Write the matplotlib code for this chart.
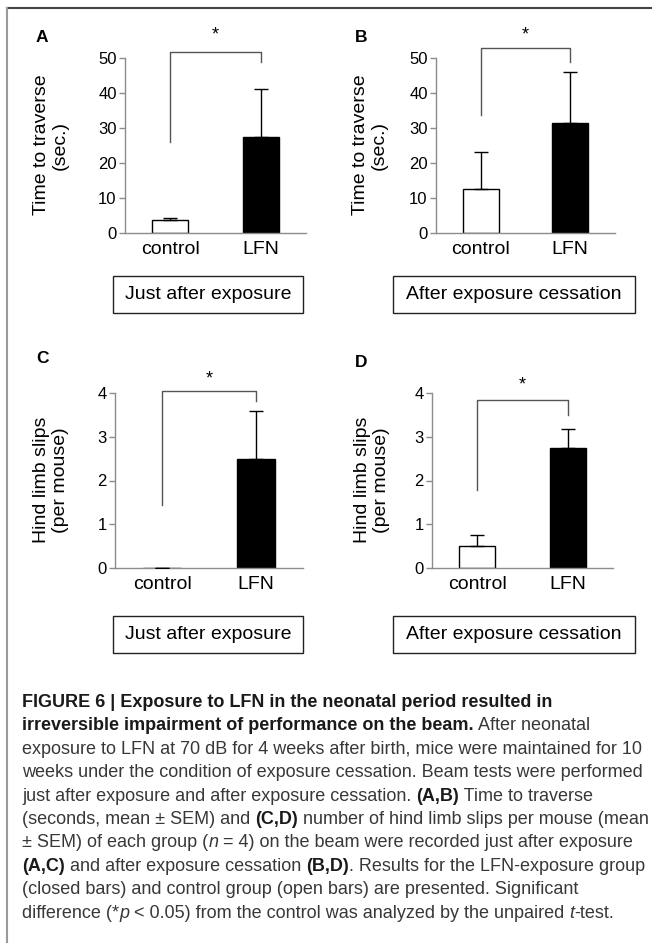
import numpy as np
import matplotlib
matplotlib.use('Agg')
import matplotlib.pyplot as plt
from matplotlib.patches import Rectangle
from matplotlib.lines import Line2D

plt.rcParams['font.family'] = ['Liberation Sans', 'DejaVu Sans']

W, H = 652, 943

groups = ['control', 'LFN']
# mean and upper SEM of each panel
time_just_mean = [3.7, 27.3]
time_just_sem = [0.6, 13.8]
time_after_mean = [12.6, 31.5]
time_after_sem = [10.6, 14.4]
slips_just_mean = [0.0, 2.5]
slips_just_sem = [0.0, 1.1]
slips_after_mean = [0.5, 2.75]
slips_after_sem = [0.25, 0.42]

time_ticks = [0, 10, 20, 30, 40, 50]
slip_ticks = [0, 1, 2, 3, 4]

# significance brackets: top, left leg bottom, right leg bottom, star
brk_A = [51.7, 26.0, 49.0, 55.4]
brk_B = [53.0, 33.7, 49.0, 55.4]
brk_C = [4.05, 1.44, 3.82, 4.22]
brk_D = [3.84, 1.78, 3.50, 4.08]

fig = plt.figure(figsize=(W / 100, H / 100), dpi=100)


def px_axes(left, top, width, height):
    return fig.add_axes([left / W, 1 - (top + height) / H, width / W, height / H])


def panel(ax, means, sems, ticks, brk):
    x = np.arange(len(groups))
    ax.bar(x, means, width=0.4, color=['white', 'black'], edgecolor='black', linewidth=1, zorder=2)
    ax.errorbar(x, means, yerr=[np.zeros(len(sems)), sems], fmt='none', ecolor='black',
                elinewidth=1, capsize=5, capthick=1, zorder=3)
    ax.set_xlim(-0.5, 1.5)
    ax.set_ylim(ticks[0], ticks[-1])
    ax.set_yticks(ticks)
    ax.set_xticks(x)
    ax.set_xticklabels(groups, fontsize=14)
    ax.tick_params(axis='x', length=0, pad=6)
    ax.tick_params(axis='y', length=4, width=1, color='#8c8c8c', pad=2, labelsize=12)
    for s in ['top', 'right']:
        ax.spines[s].set_visible(False)
    for s in ['left', 'bottom']:
        ax.spines[s].set_color('#8c8c8c')
        ax.spines[s].set_linewidth(1)
    top, lb, rb, star = brk
    ax.plot([0, 0, 1, 1], [lb, top, top, rb], color='#555555', lw=1, clip_on=False)
    ax.text(0.5, star, '*', ha='center', va='baseline', fontsize=13, clip_on=False)


axA = px_axes(125, 58, 181, 175)
panel(axA, time_just_mean, time_just_sem, time_ticks, brk_A)
axB = px_axes(436, 58, 179, 175)
panel(axB, time_after_mean, time_after_sem, time_ticks, brk_B)
axC = px_axes(115, 393, 188, 175)
panel(axC, slips_just_mean, slips_just_sem, slip_ticks, brk_C)
axD = px_axes(432, 393, 181, 175)
panel(axD, slips_after_mean, slips_after_sem, slip_ticks, brk_D)


def ftext(x, y, s, **kw):
    return fig.text(x / W, 1 - y / H, s, **kw)


# y labels
ftext(51, 145, 'Time to traverse\n(sec.)', rotation=90, ha='center', va='center', fontsize=14, linespacing=1.1)
ftext(370, 145, 'Time to traverse\n(sec.)', rotation=90, ha='center', va='center', fontsize=14, linespacing=1.1)
ftext(51, 480, 'Hind limb slips\n(per mouse)', rotation=90, ha='center', va='center', fontsize=14, linespacing=1.1)
ftext(372, 480, 'Hind limb slips\n(per mouse)', rotation=90, ha='center', va='center', fontsize=14, linespacing=1.1)

# panel letters
for lab, lx, ly in [('A', 36, 42), ('B', 355, 42), ('C', 36, 363), ('D', 355, 367)]:
    ftext(lx, ly, lab, ha='left', va='baseline', fontsize=12.5, fontweight='bold')

# condition boxes
for txt, bx, by in [('Just after exposure', 113, 276), ('After exposure cessation', 393, 276),
                    ('Just after exposure', 113, 616), ('After exposure cessation', 393, 616)]:
    bw = 190 if bx < 300 else 242
    fig.add_artist(Rectangle((bx / W, 1 - (by + 37) / H), bw / W, 37 / H, transform=fig.transFigure,
                             facecolor='white', edgecolor='#222222', lw=1))
    ftext(bx + bw / 2, by + 18.5, txt, ha='center', va='center', fontsize=14)

# frame lines
fig.add_artist(Line2D([7 / W, 1], [1 - 8 / H, 1 - 8 / H], transform=fig.transFigure, color='#444444', lw=1.5))
fig.add_artist(Line2D([7 / W, 7 / W], [1 - 8 / H, 0], transform=fig.transFigure, color='#999999', lw=1.5))

# caption, drawn as runs of (text, style)
caption = [
    [('FIGURE 6 | Exposure to LFN in the neonatal period resulted in', 'b')],
    [('irreversible impairment of performance on the beam.', 'b'), (' After neonatal', 'r')],
    [('exposure to LFN at 70 dB for 4 weeks after birth, mice were maintained for 10', 'r')],
    [('weeks under the condition of exposure cessation. Beam tests were performed', 'r')],
    [('just after exposure and after exposure cessation. ', 'r'), ('(A,B)', 'b'), (' Time to traverse', 'r')],
    [('(seconds, mean \u00b1 SEM) and ', 'r'), ('(C,D)', 'b'), (' number of hind limb slips per mouse (mean', 'r')],
    [('\u00b1 SEM) of each group (', 'r'), ('n', 'i'), (' = 4) on the beam were recorded just after exposure', 'r')],
    [('(A,C)', 'b'), (' and after exposure cessation ', 'r'), ('(B,D)', 'b'), ('. Results for the LFN-exposure group', 'r')],
    [('(closed bars) and control group (open bars) are presented. Significant', 'r')],
    [('difference (*', 'r'), ('p', 'i'), (' < 0.05) from the control was analyzed by the unpaired ', 'r'),
     ('t', 'i'), ('-test.', 'r')],
]

fig.canvas.draw()
renderer = fig.canvas.get_renderer()
cap_size = 13
for i, runs in enumerate(caption):
    y = 707 + i * 23.4
    x = 22
    for s, st in runs:
        kw = dict(fontsize=cap_size, ha='left', va='baseline', color='#383838')
        if st == 'b':
            kw.update(fontweight='bold', color='#1a1a1a')
        if st == 'i':
            kw.update(fontstyle='italic')
        t = ftext(x, y, s, **kw)
        x += t.get_window_extent(renderer).width

fig.savefig('out.png', dpi=100)
